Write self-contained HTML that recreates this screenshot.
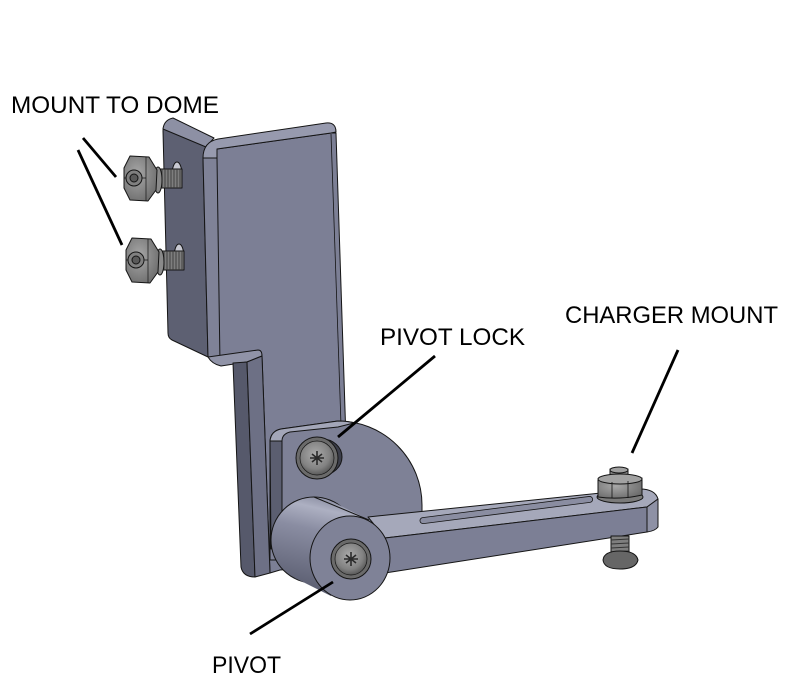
<!DOCTYPE html>
<html><head><meta charset="utf-8"><style>
html,body{margin:0;padding:0;background:#fff;}
svg{display:block;}
text{font-family:"Liberation Sans",Arial,sans-serif;font-size:24px;fill:#000;}
</style></head><body>
<svg width="812" height="698" viewBox="0 0 812 698" xmlns="http://www.w3.org/2000/svg">
<defs>
<linearGradient id="cyl" gradientUnits="userSpaceOnUse" x1="333" y1="500" x2="312" y2="592">
<stop offset="0" stop-color="#8e91a5"/><stop offset="0.12" stop-color="#adb0c2"/><stop offset="0.35" stop-color="#8a8da2"/><stop offset="1" stop-color="#5a5d70"/>
</linearGradient>
<radialGradient id="scr" cx="0.45" cy="0.4" r="0.6">
<stop offset="0" stop-color="#ababab"/><stop offset="0.7" stop-color="#828282"/><stop offset="1" stop-color="#5a5a5a"/>
</radialGradient>
<radialGradient id="hw" cx="0.4" cy="0.4" r="0.7">
<stop offset="0" stop-color="#a8a8a8"/><stop offset="1" stop-color="#6a6a6a"/>
</radialGradient>
</defs>
<rect width="812" height="698" fill="#fff"/>

<g stroke="#151515" stroke-width="1" stroke-linejoin="round">
<path d="M163,131 Q163,123 171,120 L208,140 L203,158 L208,357 L172,340 Q168,338 168,333 Z" fill="#5d6072"/>
<path d="M163,129 Q164,120 173,118 L214,138 L206,147 Z" fill="#8d90a4"/>
<path d="M217,149 L331,133 L336,133 L346,440 L347,565 L280,570 L270,573 L262,356 L220,364 L217,358 Z" fill="#7c7f95"/>
<path d="M203,158 L217,158 L220,364 L208,357 Z" fill="#7f8297"/>
<path d="M203,158 Q203,142 218,139 L326,123 Q336,122 336,132 L331,133 L217,149 Q217,150 217,158 Z" fill="#979aae"/>
<line x1="331" y1="134" x2="341" y2="425" stroke-width="0.8"/>
<path d="M208,357 L258,350 Q262,350 262,356 L247,362 L221,366 Q212,364 208,357 Z" fill="#9093a7"/>
<path d="M233,363 L247,362 L255,577 Q243,577 241,567 Z" fill="#56596b"/>
<path d="M247,362 L262,356 L270,573 L255,577 Z" fill="#6d7085"/>

<path d="M270,441 Q271,431 281,429 L338,421 A84,84 0 0 1 422,505 L422,560 L270,560 Z" fill="#7e8196"/>
<path d="M270,441 Q271,431 281,429 L338,421 Q348,421 354,423 L338,427 L290,432 Q282,434 282,441 Z" fill="#a3a6b8"/>
<path d="M270,441 L282,441 L282,545 L271,549 Z" fill="#5b5e70"/>
<ellipse cx="322" cy="457" rx="20" ry="18" fill="#3c3e4a"/>
<circle cx="317" cy="458" r="21" fill="#6a6a6a"/>
<circle cx="317" cy="458" r="17" fill="url(#scr)" stroke-width="0.7"/>
<path d="M312,454 L322,462 M322,454 L312,462 M317,451 L317,465 M310,458 L324,458" stroke="#2a2a2a" stroke-width="1.6" fill="none"/>

<path d="M368,517 L640,489 Q655,489 658,499 L647,507 L385,538 Z" fill="#a5a8ba"/>
<path d="M385,538 L647,507 L647,532 L385,573 Z" fill="#7c7f95"/>
<path d="M647,507 L658,499 L658,527 Q655,531 647,532 Z" fill="#8e91a5"/>
<rect x="0" y="-3" width="174" height="6" rx="3" transform="translate(420,521) rotate(-7.25)" fill="#8a8da1" stroke-width="0.8"/>

<circle cx="314" cy="540" r="43" fill="url(#cyl)"/>
<path d="M333,502 L369,520 L331,596 L295,578 Z" fill="url(#cyl)" stroke="none"/>
<path d="M314,497 L369,520" fill="none"/>
<ellipse cx="350" cy="558" rx="40" ry="42" fill="#7f8297"/>
<circle cx="351" cy="559" r="20" fill="#6a6a6a"/>
<circle cx="351" cy="559" r="16" fill="url(#scr)" stroke-width="0.7"/>
<path d="M346,555 L356,563 M356,555 L346,563 M351,552 L351,566 M344,559 L358,559" stroke="#2a2a2a" stroke-width="1.6" fill="none"/>

<rect x="610" y="469" width="18" height="10" fill="#8a8a8a"/>
<ellipse cx="619" cy="470" rx="9" ry="3" fill="#a0a0a0"/>
<ellipse cx="620" cy="497" rx="23" ry="6" fill="#7a7a7a"/>
<path d="M598,480 L642,478 L642,495 Q620,500 598,497 Z" fill="url(#hw)"/>
<ellipse cx="620" cy="479" rx="22" ry="5" fill="#a2a2a2"/>
<path d="M612,482 L612,498 M628,481 L628,498" fill="none" stroke-width="0.8"/>
<rect x="611" y="536" width="18" height="19" fill="#7e7e7e"/>
<path d="M611,540 L629,539 M611,544 L629,543 M611,548 L629,547 M611,552 L629,551" stroke="#333" stroke-width="1" fill="none"/>
<path d="M603,560 Q604,551 620,551 Q636,551 638,560 Q636,569 620,569 Q604,569 603,560 Z" fill="#666"/>

<g id="b1">
<ellipse cx="177" cy="175" rx="5" ry="13" fill="#c8c9d2"/>
<rect x="158" y="169" width="24" height="19" fill="#7e7e7e"/>
<path d="M162,169 L162,188 M165,169 L165,188 M168,169 L168,188 M171,169 L171,188 M174,169 L174,188 M177,169 L177,188 M180,169 L180,188" stroke="#3a3a3a" stroke-width="0.9" fill="none"/>
<ellipse cx="158" cy="180" rx="4" ry="13" fill="#8a8a8a"/>
<polygon points="130,156 149,157 157,170 156,190 148,201 130,200 124,188 124,168" fill="url(#hw)"/>
<path d="M146,157 L146,201 M124,178 L146,178" fill="none" stroke-width="0.7"/>
<circle cx="134" cy="178" r="8" fill="#808080"/>
<circle cx="134" cy="178" r="4" fill="#5a5a5a"/>
</g>
<use href="#b1" transform="translate(2,82)"/>
</g>

<g stroke="#000" stroke-width="2.8" stroke-linecap="butt">
<line x1="83" y1="138" x2="116" y2="177"/>
<line x1="78" y1="150" x2="122" y2="245"/>
<line x1="435" y1="356" x2="338" y2="437"/>
<line x1="678" y1="350" x2="632" y2="453"/>
<line x1="250" y1="634" x2="333" y2="582"/>
</g>

<text x="11" y="113" textLength="208" lengthAdjust="spacingAndGlyphs">MOUNT TO DOME</text>
<text x="380" y="345" textLength="145" lengthAdjust="spacingAndGlyphs">PIVOT LOCK</text>
<text x="565" y="323" textLength="213" lengthAdjust="spacingAndGlyphs">CHARGER MOUNT</text>
<text x="212" y="673" textLength="69" lengthAdjust="spacingAndGlyphs">PIVOT</text>
</svg>
</body></html>
